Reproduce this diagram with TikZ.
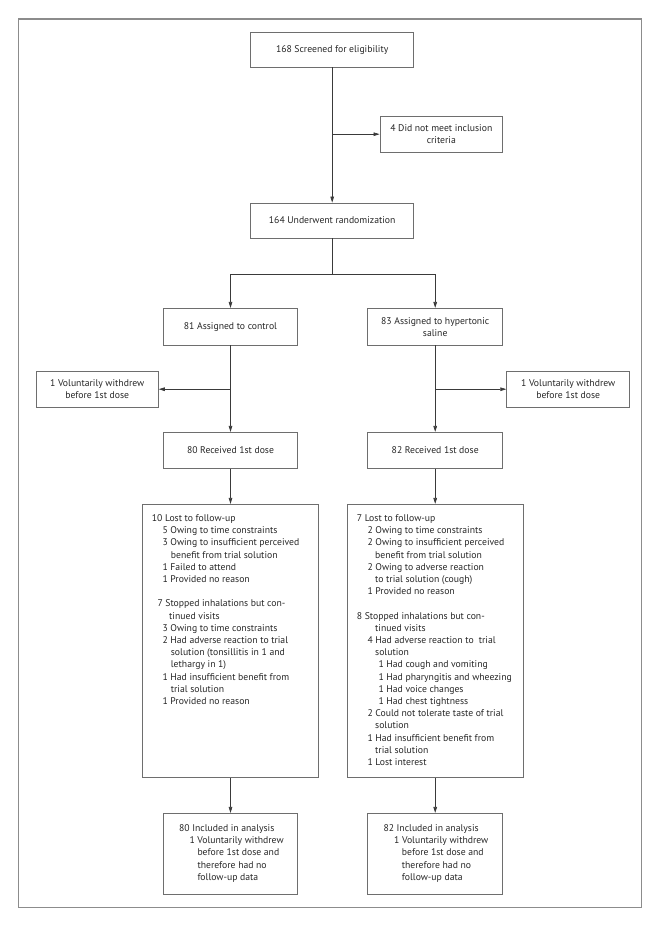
\documentclass[tikz,border=0pt]{standalone}
\usepackage{fontspec}
\setmainfont{PT Sans}
\usetikzlibrary{arrows.meta}
\definecolor{framec}{HTML}{8C8C8C}
\definecolor{boxc}{HTML}{6E6E6E}
\definecolor{linec}{HTML}{3A3A3A}
\definecolor{textc}{HTML}{262626}
\newcommand\figfont{\fontsize{9.7}{12.2}\selectfont}
\newcommand\txtline[5]{\node[txt] (#1) at (#2,{#3+12.2*#4}) {#5};}
\begin{document}
\begin{tikzpicture}[x=1pt,y=-1pt,
  box/.style={draw=boxc,line width=0.8pt,inner sep=0pt,align=center,font=\figfont,text=textc},
  txt/.style={anchor=base west,inner sep=0pt,font=\figfont,text=textc},
  conn/.style={draw=linec,line width=0.7pt},
  arr/.style={conn,-{Triangle[length=6pt,width=3.6pt]}}]
\useasboundingbox (0,0) rectangle (660,927);
\node[draw=framec,line width=1.3pt,inner sep=0pt,minimum width=623.2pt,minimum height=888.3pt] (frame) at (329.9,463.15) {};

\node[box,minimum width=163pt,minimum height=34.7pt] (scr) at (332.2,49.7) {168 Screened for eligibility};
\node[box,minimum width=122.7pt,minimum height=36.3pt] (excl) at (441.3,134.2) {4 Did not meet inclusion\\criteria};
\node[box,minimum width=163pt,minimum height=35pt] (rand) at (332.2,220.5) {164 Underwent randomization};
\node[box,minimum width=134.4pt,minimum height=36.7pt] (ctrl) at (230.5,326.7) {81 Assigned to control};
\node[box,minimum width=135pt,minimum height=36.7pt] (hyp) at (435.2,326.7) {83 Assigned to hypertonic\\saline};
\node[box,minimum width=122.3pt,minimum height=36.3pt] (wL) at (97.2,389.2) {1 Voluntarily withdrew\\before 1st dose};
\node[box,minimum width=123pt,minimum height=36.3pt] (wR) at (568.2,389.2) {1 Voluntarily withdrew\\before 1st dose};
\node[box,minimum width=134.4pt,minimum height=36pt] (recL) at (230.5,450.3) {80 Received 1st dose};
\node[box,minimum width=135pt,minimum height=36pt] (recR) at (435.2,450.3) {82 Received 1st dose};
\node[box,minimum width=176.7pt,minimum height=273.4pt] (lostL) at (230.5,641) {};
\node[box,minimum width=176.6pt,minimum height=273.4pt] (lostR) at (435.2,641) {};
\node[box,minimum width=134.4pt,minimum height=80.7pt] (incL) at (230.5,853.7) {};
\node[box,minimum width=135pt,minimum height=80.7pt] (incR) at (435.2,853.7) {};

% connectors
\draw[arr] (scr.south) -- (rand.north);
\coordinate (b1) at (scr.south |- excl.west);
\draw[arr] (b1) -- (excl.west);
\path (rand.south) ++(0,35.5) coordinate (split);
\draw[conn] (rand.south) -- (split);
\draw[arr] (split) -| (ctrl.north);
\draw[arr] (split) -| (hyp.north);
\draw[arr] (ctrl.south) -- (recL.north);
\draw[arr] (hyp.south) -- (recR.north);
\coordinate (b2) at (ctrl.south |- wL.east);
\coordinate (b3) at (hyp.south |- wR.west);
\draw[arr] (b2) -- (wL.east);
\draw[arr] (b3) -- (wR.west);
\draw[arr] (recL.south) -- (lostL.north);
\draw[arr] (recR.south) -- (lostR.north);
\draw[arr] (lostL.south) -- (incL.north);
\draw[arr] (lostR.south) -- (incR.north);

% left lost box text
\txtline{la0}{151.7}{521.4}{0}{10 Lost to follow-up}
\txtline{la1}{162.3}{521.4}{1}{5 Owing to time constraints}
\txtline{la2}{162.3}{521.4}{2}{3 Owing to insufficient perceived}
\txtline{la3}{170.7}{521.4}{3}{benefit from trial solution}
\txtline{la4}{162.3}{521.4}{4}{1 Failed to attend}
\txtline{la5}{162.3}{521.4}{5}{1 Provided no reason}
\txtline{la7}{157.3}{521.4}{7}{7 Stopped inhalations but con-}
\txtline{la8}{169}{521.4}{8}{tinued visits}
\txtline{la9}{162.3}{521.4}{9}{3 Owing to time constraints}
\txtline{la10}{162.3}{521.4}{10}{2 Had adverse reaction to trial}
\txtline{la11}{170.7}{521.4}{11}{solution (tonsillitis in 1 and}
\txtline{la12}{170.7}{521.4}{12}{lethargy in 1)}
\txtline{la13}{162.3}{521.4}{13}{1 Had insufficient benefit from}
\txtline{la14}{170.7}{521.4}{14}{trial solution}
\txtline{la15}{162.3}{521.4}{15}{1 Provided no reason}

% right lost box text
\txtline{ra0}{356.7}{521.4}{0}{7 Lost to follow-up}
\txtline{ra1}{367.3}{521.4}{1}{2 Owing to time constraints}
\txtline{ra2}{367.3}{521.4}{2}{2 Owing to insufficient perceived}
\txtline{ra3}{375}{521.4}{3}{benefit from trial solution}
\txtline{ra4}{367.3}{521.4}{4}{2 Owing to adverse reaction}
\txtline{ra5}{375}{521.4}{5}{to trial solution (cough)}
\txtline{ra6}{367.3}{521.4}{6}{1 Provided no reason}
\txtline{ra8}{356.7}{521.4}{8}{8 Stopped inhalations but con-}
\txtline{ra9}{375}{521.4}{9}{tinued visits}
\txtline{ra10}{367.3}{521.4}{10}{4 Had adverse reaction to~~trial}
\txtline{ra11}{375}{521.4}{11}{solution}
\txtline{ra12}{378.3}{521.4}{12}{1 Had cough and vomiting}
\txtline{ra13}{378.3}{521.4}{13}{1 Had pharyngitis and wheezing}
\txtline{ra14}{378.3}{521.4}{14}{1 Had voice changes}
\txtline{ra15}{378.3}{521.4}{15}{1 Had chest tightness}
\txtline{ra16}{367.3}{521.4}{16}{2 Could not tolerate taste of trial}
\txtline{ra17}{375}{521.4}{17}{solution}
\txtline{ra18}{367.3}{521.4}{18}{1 Had insufficient benefit from}
\txtline{ra19}{375}{521.4}{19}{trial solution}
\txtline{ra20}{367.3}{521.4}{20}{1 Lost interest}

% included boxes text
\txtline{li0}{179}{831.4}{0}{80 Included in analysis}
\txtline{li1}{189.3}{831.4}{1}{1 Voluntarily withdrew}
\txtline{li2}{197.3}{831.4}{2}{before 1st dose and}
\txtline{li3}{197.3}{831.4}{3}{therefore had no}
\txtline{li4}{197.3}{831.4}{4}{follow-up data}
\txtline{ri0}{383.3}{831.4}{0}{82 Included in analysis}
\txtline{ri1}{394}{831.4}{1}{1 Voluntarily withdrew}
\txtline{ri2}{401.7}{831.4}{2}{before 1st dose and}
\txtline{ri3}{401.7}{831.4}{3}{therefore had no}
\txtline{ri4}{401.7}{831.4}{4}{follow-up data}
\end{tikzpicture}
\end{document}
